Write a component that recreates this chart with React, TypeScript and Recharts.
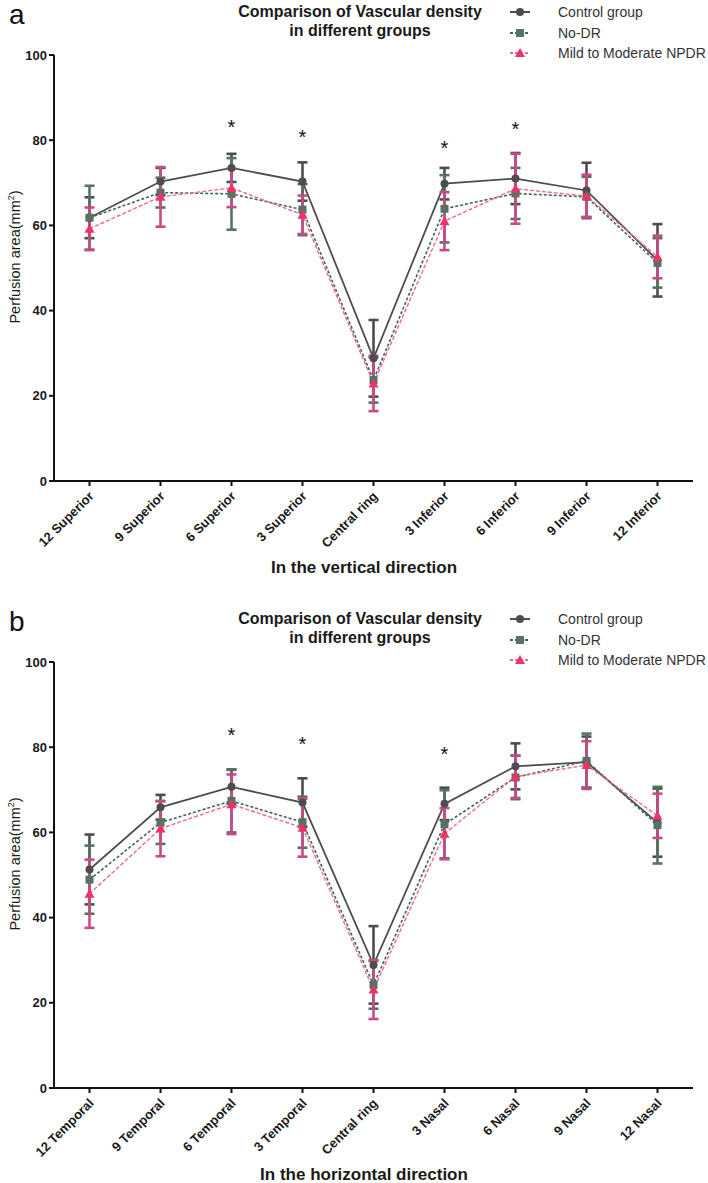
import React from "react";
import {
  LineChart,
  Line,
  XAxis,
  YAxis,
  ErrorBar,
  ReferenceDot,
} from "recharts";

// vertical direction (panel a)
const categoriesA = ["12 Superior", "9 Superior", "6 Superior", "3 Superior", "Central ring", "3 Inferior", "6 Inferior", "9 Inferior", "12 Inferior"];
const controlA = [61.8, 70.3, 73.5, 70.3, 28.8, 69.8, 71.0, 68.2, 51.8];
const controlSdA = [4.8, 3.2, 3.3, 4.5, 9.0, 3.7, 6.0, 6.5, 8.5];
const noDrA = [61.8, 67.7, 67.4, 63.7, 23.7, 63.9, 67.5, 66.7, 51.2];
const noDrSdA = [7.5, 3.5, 8.4, 6.0, 5.3, 7.9, 6.0, 4.7, 5.8];
const mildA = [59.2, 66.7, 68.8, 62.5, 22.9, 61.0, 68.6, 66.9, 52.6];
const mildSdA = [5.0, 7.0, 4.5, 4.5, 6.5, 6.8, 8.2, 5.0, 5.0];
const starCatsA = ["6 Superior", "3 Superior", "3 Inferior", "6 Inferior"];
const starValsA = [84.0, 81.6, 79.2, 83.7];

// horizontal direction (panel b)
const categoriesB = ["12 Temporal", "9 Temporal", "6 Temporal", "3 Temporal", "Central ring", "3 Nasal", "6 Nasal", "9 Nasal", "12 Nasal"];
const controlB = [51.3, 65.9, 70.7, 67.0, 28.9, 66.7, 75.5, 76.5, 62.3];
const controlSdB = [8.2, 2.9, 4.0, 5.7, 9.1, 3.8, 5.4, 6.0, 8.0];
const noDrB = [48.9, 62.3, 67.4, 62.4, 24.2, 61.9, 72.9, 76.8, 61.7];
const noDrSdB = [8.0, 5.0, 7.4, 6.0, 5.6, 8.0, 5.1, 6.4, 9.0];
const mildB = [45.6, 60.9, 66.6, 61.1, 23.1, 59.7, 73.1, 75.8, 63.9];
const mildSdB = [8.0, 6.5, 7.0, 6.8, 6.9, 6.0, 5.0, 5.6, 5.2];
const starCatsB = ["6 Temporal", "3 Temporal", "3 Nasal"];
const starValsB = [83.8, 81.6, 79.3];

const yTicks = [0, 20, 40, 60, 80, 100];

const GRAY = "#4d4d4d";
const GREEN = "#3f6a4e";
const GREEN_BAR = "#557361";
const PINK_LINE = "#f2659a";
const PINK_BAR = "#c84a88";
const PINK_DOT = "#ee3366";
const FONT = "'Liberation Sans', Arial, sans-serif";

const CircleDot = (props: any) => {
  const { cx, cy } = props;
  if (cx == null || cy == null) return <g />;
  return <circle cx={cx} cy={cy} r={4} fill={GRAY} />;
};

const SquareDot = (props: any) => {
  const { cx, cy } = props;
  if (cx == null || cy == null) return <g />;
  return <rect x={cx - 4} y={cy - 4} width={8} height={8} fill={GREEN_BAR} />;
};

const TriDot = (props: any) => {
  const { cx, cy } = props;
  if (cx == null || cy == null) return <g />;
  return <polygon points={`${cx},${cy - 5} ${cx + 5},${cy + 4} ${cx - 5},${cy + 4}`} fill={PINK_DOT} />;
};

const XTick = (props: any) => {
  const { x, y, payload } = props;
  return (
    <text
      x={x + 5}
      y={y + 9}
      transform={`rotate(-45 ${x + 5} ${y + 9})`}
      textAnchor="end"
      fontFamily={FONT}
      fontWeight="bold"
      fontSize={13}
      fill="#1a1a1a"
    >
      {payload.value}
    </text>
  );
};

const legendItems = [
  { name: "Control group", stroke: GRAY, dash: "", mark: "c" },
  { name: "No-DR", stroke: GREEN, dash: "3 2", mark: "s" },
  { name: "Mild to Moderate NPDR", stroke: PINK_LINE, dash: "3 2", mark: "t" },
];

const LegendBox = () => (
  <div style={{ position: "absolute", left: 506, top: 2, fontFamily: FONT, fontSize: 14, color: "#333" }}>
    {legendItems.map((e) => (
      <div key={e.name} style={{ display: "flex", alignItems: "center", height: 20.5 }}>
        <svg width={52} height={14}>
          <line x1={4} y1={7} x2={24} y2={7} stroke={e.stroke} strokeWidth={2} strokeDasharray={e.dash} />
          {e.mark === "c" && <circle cx={14} cy={7} r={4} fill={GRAY} />}
          {e.mark === "s" && <rect x={10} y={3} width={8} height={8} fill={GREEN_BAR} />}
          {e.mark === "t" && <polygon points="14,2 19,11 9,11" fill={PINK_DOT} />}
        </svg>
        <span>{e.name}</span>
      </div>
    ))}
  </div>
);

type PanelProps = {
  letter: string;
  xTitle: string;
  categories: string[];
  control: number[];
  controlSd: number[];
  noDr: number[];
  noDrSd: number[];
  mild: number[];
  mildSd: number[];
  starCats: string[];
  starVals: number[];
  height: number;
};

const Panel = (p: PanelProps) => {
  const data = p.categories.map((c, i) => ({
    name: c,
    control: p.control[i],
    controlSd: p.controlSd[i],
    noDr: p.noDr[i],
    noDrSd: p.noDrSd[i],
    mild: p.mild[i],
    mildSd: p.mildSd[i],
  }));
  return (
    <div style={{ position: "relative", width: 708, height: p.height }}>
      <LineChart
        width={708}
        height={p.height}
        data={data}
        margin={{ top: 55, right: 15, left: 0, bottom: 0 }}
      >
        <XAxis
          dataKey="name"
          interval={0}
          padding={{ left: 35.5, right: 35.5 }}
          height={p.height - 481}
          stroke="#111"
          strokeWidth={2}
          tickSize={5}
          tick={<XTick />}
        />
        <YAxis
          domain={[0, 100]}
          ticks={yTicks}
          width={54}
          stroke="#111"
          strokeWidth={2}
          tickSize={5}
          tickMargin={2}
          tick={{ fontFamily: FONT, fontWeight: "bold", fontSize: 13, fill: "#1a1a1a" }}
        />
        <Line
          dataKey="control"
          name="Control group"
          stroke={GRAY}
          strokeWidth={1.8}
          dot={<CircleDot />}
          activeDot={false}
          isAnimationActive={false}
        >
          <ErrorBar dataKey="controlSd" width={5} stroke={GRAY} strokeWidth={2.6} direction="y" />
        </Line>
        <Line
          dataKey="noDr"
          name="No-DR"
          stroke={GREEN}
          strokeWidth={1.6}
          strokeDasharray="3 2"
          dot={<SquareDot />}
          activeDot={false}
          isAnimationActive={false}
        >
          <ErrorBar dataKey="noDrSd" width={5} stroke={GREEN_BAR} strokeWidth={2.6} direction="y" />
        </Line>
        <Line
          dataKey="mild"
          name="Mild to Moderate NPDR"
          stroke={PINK_LINE}
          strokeWidth={1.4}
          strokeDasharray="4 2"
          dot={<TriDot />}
          activeDot={false}
          isAnimationActive={false}
        >
          <ErrorBar dataKey="mildSd" width={5} stroke={PINK_BAR} strokeWidth={2.6} direction="y" />
        </Line>
        {p.starCats.map((c, i) => (
          <ReferenceDot
            key={c}
            x={c}
            y={p.starVals[i]}
            r={0}
            fill="none"
            stroke="none"
            label={{ value: "*", position: "center", fontSize: 20, fill: "#111", fontFamily: FONT, dy: 4 }}
          />
        ))}
      </LineChart>
      <LegendBox />
      <div
        style={{
          position: "absolute",
          left: 9,
          top: 0,
          fontFamily: FONT,
          fontSize: 28,
          lineHeight: "30px",
          color: "#111",
        }}
      >
        {p.letter}
      </div>
      <div
        style={{
          position: "absolute",
          left: 210,
          top: 2,
          width: 300,
          textAlign: "center",
          fontFamily: FONT,
          fontWeight: "bold",
          fontSize: 16,
          lineHeight: "19px",
          color: "#1a1a1a",
        }}
      >
        Comparison of Vascular density
        <br />
        in different groups
      </div>
      <div
        style={{
          position: "absolute",
          left: 164,
          top: 558,
          width: 400,
          textAlign: "center",
          fontFamily: FONT,
          fontWeight: "bold",
          fontSize: 17,
          color: "#1a1a1a",
        }}
      >
        {p.xTitle}
      </div>
      <svg style={{ position: "absolute", left: 0, top: 0 }} width={30} height={480}>
        <text
          x={20}
          y={257}
          transform="rotate(-90 20 257)"
          textAnchor="middle"
          fontFamily={FONT}
          fontSize={14.5}
          fill="#1a1a1a"
        >
          Perfusion area(mm
          <tspan fontSize={9} dy={-6}>2</tspan>
          <tspan dy={6}>)</tspan>
        </text>
      </svg>
    </div>
  );
};

export default function App() {
  return (
    <div style={{ position: "absolute", left: 0, top: 0, width: 708, height: 1183, overflow: "hidden", background: "#fff" }}>
      <Panel
        letter="a"
        xTitle="In the vertical direction"
        categories={categoriesA}
        control={controlA}
        controlSd={controlSdA}
        noDr={noDrA}
        noDrSd={noDrSdA}
        mild={mildA}
        mildSd={mildSdA}
        starCats={starCatsA}
        starVals={starValsA}
        height={607}
      />
      <Panel
        letter="b"
        xTitle="In the horizontal direction"
        categories={categoriesB}
        control={controlB}
        controlSd={controlSdB}
        noDr={noDrB}
        noDrSd={noDrSdB}
        mild={mildB}
        mildSd={mildSdB}
        starCats={starCatsB}
        starVals={starValsB}
        height={576}
      />
    </div>
  );
}
